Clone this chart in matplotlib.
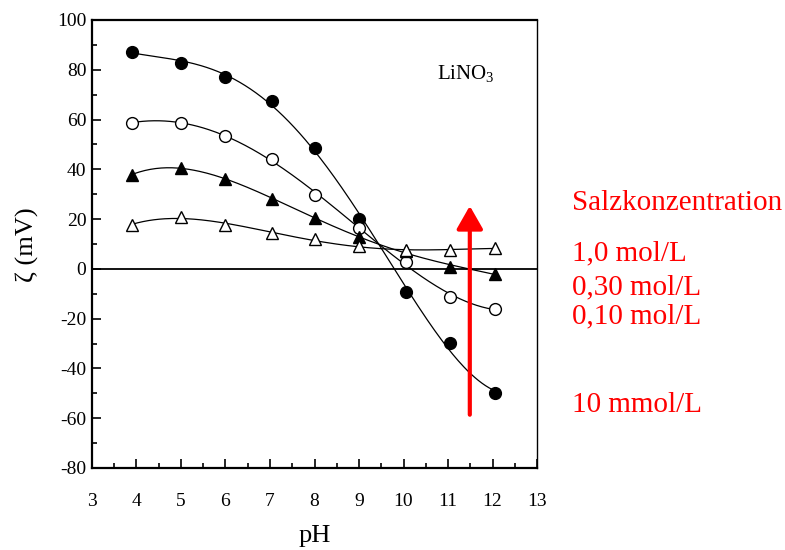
import numpy as np
import matplotlib
matplotlib.use("Agg")
import matplotlib.pyplot as plt

plt.rcParams['font.family'] = ['Liberation Serif', 'DejaVu Serif']
plt.rcParams['mathtext.fontset'] = 'custom'
plt.rcParams['mathtext.rm'] = 'Liberation Serif'
plt.rcParams['axes.unicode_minus'] = False

# pH values of the measurements
ph = [3.9, 5.0, 6.0, 7.05, 8.0, 9.0, 10.05, 11.05, 12.05]

# zeta potential (mV) for each salt concentration
zeta_10mmol = [87.3, 82.6, 77.2, 67.5, 48.7, 20.0, -9.1, -29.9, -50.0]
zeta_010mol = [58.8, 58.5, 53.5, 44.0, 29.7, 16.6, 2.7, -11.1, -16.1]
zeta_030mol = [37.8, 40.7, 36.1, 28.1, 20.4, 13.0, 7.0, 0.9, -2.0]
zeta_10mol = [17.7, 21.0, 17.7, 14.3, 11.9, 9.0, 7.6, 7.6, 8.3]

conc_labels = ["1,0 mol/L", "0,30 mol/L", "0,10 mol/L", "10 mmol/L"]
conc_baselines = [260, 294, 323, 412]  # pixel rows of the red labels

fig = plt.figure(figsize=(7.85, 5.5), dpi=100)
ax = fig.add_axes([92/785, 1-468/550, 445/785, 448/550])

series = [
    (zeta_10mmol, 4, dict(marker='o', mfc='black', mec='black', ms=8.5)),
    (zeta_010mol, 4, dict(marker='o', mfc='white', mec='black', ms=8.5, mew=1.0)),
    (zeta_030mol, 4, dict(marker='^', mfc='black', mec='black', ms=8.5)),
    (zeta_10mol, 4, dict(marker='^', mfc='white', mec='black', ms=8.5, mew=1.0)),
]
xs = np.linspace(ph[0], ph[-1], 200)
for vals, deg, style in series:
    coef = np.polyfit(ph, vals, deg)
    ax.plot(xs, np.polyval(coef, xs), color='black', lw=0.9, zorder=2)
    ax.plot(ph, vals, ls='none', zorder=3, **style)

ax.axhline(0, color='black', lw=1.3, zorder=1)

ax.set_xlim(3, 13)
ax.set_ylim(-80, 100)
ax.set_xticks(range(3, 14))
ax.set_xticks(np.arange(3.5, 13, 1.0), minor=True)
ax.set_yticks(range(-80, 101, 20))
ax.set_yticks(range(-70, 100, 20), minor=True)
ax.tick_params(which='both', direction='in', top=False, right=False, labelsize=14, width=1.2)
ax.tick_params(which='major', length=6.5)
ax.tick_params(which='minor', length=3.5)
ax.tick_params(axis='x', pad=18)
ax.tick_params(axis='y', pad=4)
for side in ['left', 'bottom', 'top']:
    ax.spines[side].set_linewidth(1.6)
ax.spines['right'].set_linewidth(1.0)

ax.set_xlabel("pH", fontsize=19, labelpad=11)
fig.text(27/785, 1-245/550, "ζ (mV)", rotation=90, fontsize=19, ha='center', va='center')

ax.text(10.75, 76.3, r"LiNO$_3$", fontsize=15, ha='left', va='baseline')

ax.annotate('', xy=(11.49, 25.3), xytext=(11.49, -58.6),
            arrowprops=dict(arrowstyle='-|>,head_width=0.4,head_length=0.7',
                            color='red', lw=3, mutation_scale=20, shrinkA=0, shrinkB=0))

fig.text(572/785, 1-210/550, "Salzkonzentration", color='red', fontsize=21, va='baseline')
for lab, yb in zip(conc_labels, conc_baselines):
    fig.text(572/785, 1-yb/550, lab, color='red', fontsize=21, va='baseline')

fig.savefig("out.png", dpi=100)
